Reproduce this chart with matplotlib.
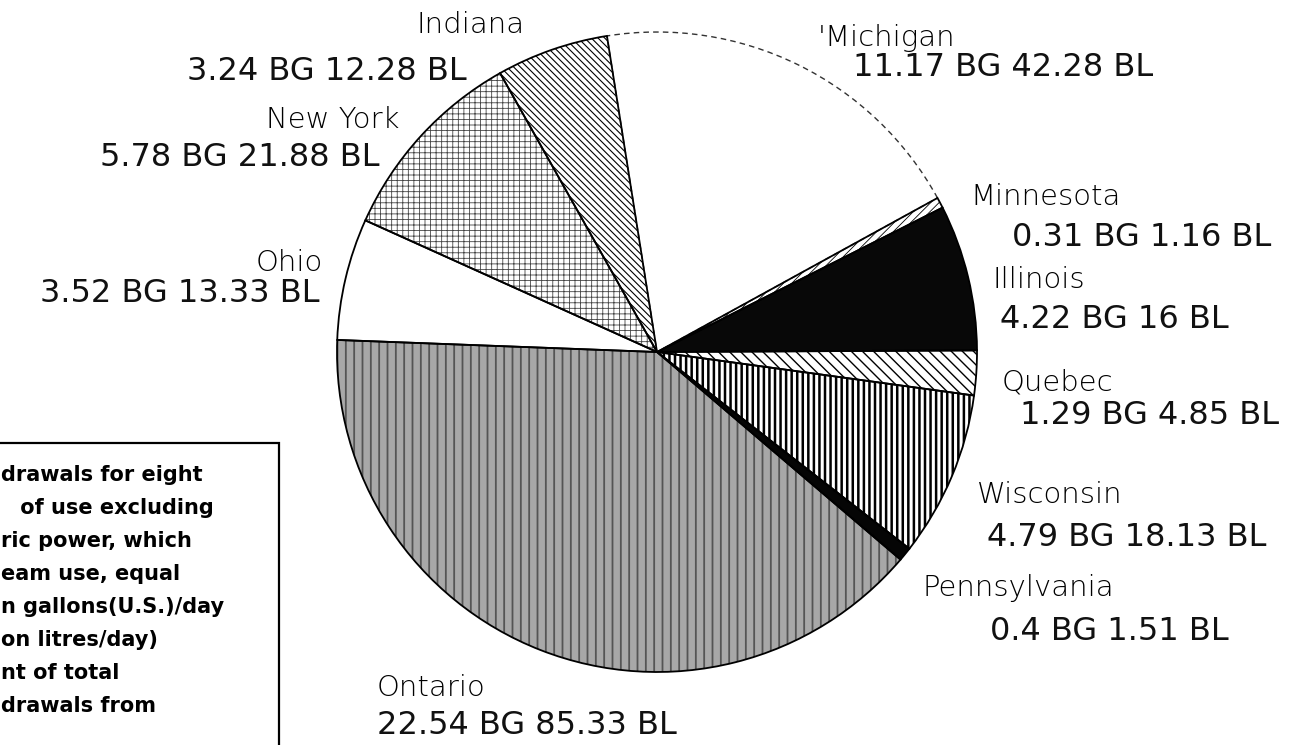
import matplotlib
matplotlib.use("Agg")
import matplotlib.pyplot as plt
from matplotlib.patches import Wedge, Rectangle

# ---------------- data ----------------
states = ["Michigan", "Minnesota", "Illinois", "Quebec", "Wisconsin",
          "Pennsylvania", "Ontario", "Ohio", "New York", "Indiana"]
name_labels = ["'Michigan", "Minnesota", "Illinois", "Quebec", "Wisconsin",
               "Pennsylvania", "Ontario", "Ohio", "New York", "Indiana"]
bg_values = [11.17, 0.31, 4.22, 1.29, 4.79, 0.4, 22.54, 3.52, 5.78, 3.24]
bl_values = [42.28, 1.16, 16, 4.85, 18.13, 1.51, 85.33, 13.33, 21.88, 12.28]
note_lines = ["drawals for eight", " of use excluding", "ric power, which",
              "eam use, equal", "n gallons(U.S.)/day", "on litres/day)",
              "nt of total", "drawals from"]

# ---------------- layout / style ----------------
W, H = 1312, 745
fig = plt.figure(figsize=(W / 100, H / 100), dpi=100)
ax = fig.add_axes([0, 0, 1, 1])
ax.set_xlim(0, W)
ax.set_ylim(0, H)
ax.axis("off")

def Y(y):
    return H - y

cx, cy, R = 657, Y(352), 320

face = ["white", "white", "#080808", "white", "white",
        "#050505", "#a8a8a8", "white", "white", "white"]
hatch = [None, "////", None, "\\\\\\", "|||", None, "||", None, "+++", "\\\\\\\\\\"]
hcol = [None, "black", None, "black", "black", None, "#555555", None, "#444444", "black"]
hlw = [0, 0.6, 0, 1.0, 1.8, 0, 1.3, 0, 0.6, 0.8]

wedges, _ = ax.pie(bg_values, startangle=99, counterclock=False,
                   center=(cx, cy), radius=R, colors=face,
                   wedgeprops=dict(edgecolor="none", linewidth=0))
ax.set_xlim(0, W)
ax.set_ylim(0, H)
ax.set_aspect("equal")

for i, w in enumerate(wedges):
    if hatch[i]:
        ov = Wedge(w.center, w.r, w.theta1, w.theta2, facecolor="none",
                   edgecolor=hcol[i], linewidth=0, hatch=hatch[i], zorder=3)
        try:
            ov.set_hatch_linewidth(hlw[i])
        except AttributeError:
            pass
        ax.add_patch(ov)

# outlines (Michigan's faint dashed arc first, then solid edges)
for i, w in enumerate(wedges):
    if i == 0:
        ol = Wedge(w.center, w.r, w.theta1, w.theta2, facecolor="none",
                   edgecolor="#333333", linewidth=1.0, linestyle=(0, (4, 3)), zorder=4)
        ax.add_patch(ol)
for i, w in enumerate(wedges):
    if i == 0:
        continue
    ol = Wedge(w.center, w.r, w.theta1, w.theta2, facecolor="none",
               edgecolor="black", linewidth=1.3, zorder=5)
    ax.add_patch(ol)

# labels: (name x, name y, name ha, value x, value y, value ha)
label_pos = [
    (818, 38, "left", 853, 68, "left"),      # Michigan
    (970, 197, "left", 1012, 237, "left"),   # Minnesota
    (993, 280, "left", 1000, 320, "left"),   # Illinois
    (1002, 382, "left", 1020, 415, "left"),  # Quebec
    (977, 495, "left", 987, 538, "left"),    # Wisconsin
    (923, 588, "left", 990, 632, "left"),    # Pennsylvania
    (377, 688, "left", 377, 725, "left"),    # Ontario
    (323, 263, "right", 320, 293, "right"),  # Ohio
    (400, 120, "right", 380, 157, "right"),  # New York
    (471, 25, "center", 467, 72, "right"),   # Indiana
]

for i, name in enumerate(name_labels):
    nx, ny, nha, vx, vy, vha = label_pos[i]
    ax.text(nx, Y(ny), name, ha=nha, va="center", fontsize=21,
            fontweight="light", family="DejaVu Sans", color="black")
    ax.text(vx, Y(vy), f"{bg_values[i]:g} BG {bl_values[i]:g} BL", ha=vha,
            va="center", fontsize=23, family="DejaVu Sans", color="#111111")

# note box (cut at the left and bottom edges)
ax.add_patch(Rectangle((-10, Y(800)), 289, 800 - 443, facecolor="white",
                       edgecolor="black", linewidth=1.6, zorder=6))
note_x = [1, 13, 1, 1, 1, 1, 1, 1]
for j, line in enumerate(note_lines):
    ax.text(note_x[j], Y(475 + 33 * j), line, ha="left", va="center",
            fontsize=15, fontweight="bold", family="DejaVu Sans", zorder=7)

fig.savefig("out.png", dpi=100, facecolor="white")
